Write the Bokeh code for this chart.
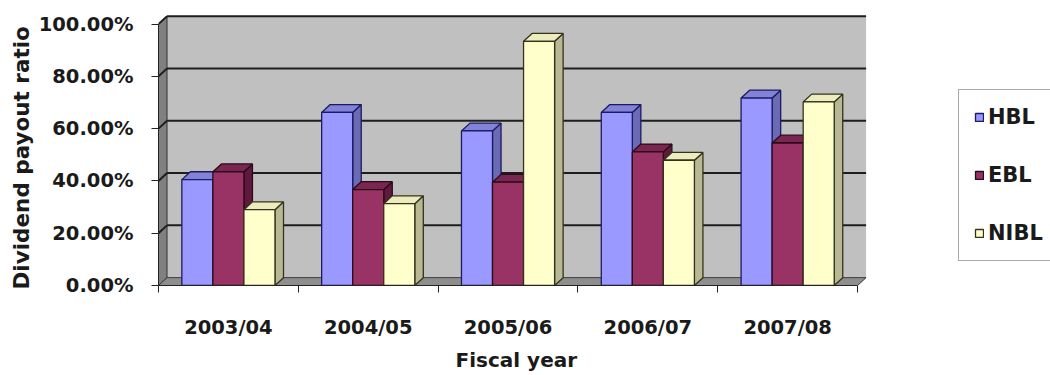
from bokeh.plotting import figure
from bokeh.models import (Range1d, FixedTicker, PrintfTickFormatter, Legend,
                          LegendItem, ColumnDataSource, Title)
from bokeh.embed import file_html
from bokeh.resources import INLINE

# Dividend payout ratio (%) by fiscal year
years = ["2003/04", "2004/05", "2005/06", "2006/07", "2007/08"]
hbl = [40.5, 66.2, 59.1, 66.2, 71.7]
ebl = [43.5, 36.7, 39.5, 51.1, 54.5]
nibl = [29.0, 31.3, 93.4, 47.9, 70.2]
y_ticks = [0, 20, 40, 60, 80, 100]

# name, values, front, top, side, outline
series = [
    ("HBL", hbl, "#9999FF", "#8282D6", "#6B6BB5", "#1A1A66"),
    ("EBL", ebl, "#993366", "#7A2650", "#5E1A3C", "#2A0A18"),
    ("NIBL", nibl, "#FFFFCC", "#ECECBE", "#B8B894", "#33331A"),
]

N = len(years)
BAR_W = 0.222            # bar width in category units
DX, DY = 0.061, 3.0      # depth offset of the pseudo-3D look
FONT = "DejaVu Sans"
INK = "#1A1A1A"

p = figure(width=1050, height=375, output_backend="svg", toolbar_location=None,
           x_range=Range1d(0, 6.38), y_range=Range1d(0, 109),
           min_border_left=158, min_border_right=0, min_border_top=0,
           min_border_bottom=85)
p.outline_line_color = None
p.xgrid.visible = False
p.ygrid.visible = False

# walls and floor
p.patch(x=[DX, N + DX, N + DX, DX], y=[DY, DY, 100 + DY, 100 + DY],
        fill_color="#C0C0C0", line_color=None)
p.patch(x=[0, DX, DX, 0], y=[0, DY, 100 + DY, 100],
        fill_color="#808080", line_color="#333333", line_width=1)
p.patch(x=[0, N, N + DX, DX], y=[0, 0, DY, DY],
        fill_color="#8E8E8E", line_color="#3A3A3A", line_width=1)

# gridlines on the back wall and across the side wall
grid_vals = y_ticks[1:]
p.segment(x0=[DX] * len(grid_vals), x1=[N + DX] * len(grid_vals),
          y0=[v + DY for v in grid_vals], y1=[v + DY for v in grid_vals],
          line_color="#1E1E1E", line_width=2)
p.segment(x0=[0] * len(grid_vals), x1=[DX] * len(grid_vals),
          y0=grid_vals, y1=[v + DY for v in grid_vals],
          line_color="#1E1E1E", line_width=2)

# bars: side, top, then front face for each series, left to right
gap = (1 - 3 * BAR_W) / 2
legend_items = []
for k, (name, vals, front, top, side, edge) in enumerate(series):
    lefts = [i + gap + k * BAR_W for i in range(N)]
    rights = [l + BAR_W for l in lefts]
    side_xs = [[r, r + DX, r + DX, r] for r in rights]
    side_ys = [[0, DY, v + DY, v] for v in vals]
    top_xs = [[l, l + DX, r + DX, r] for l, r in zip(lefts, rights)]
    top_ys = [[v, v + DY, v + DY, v] for v in vals]
    p.patches(xs=side_xs, ys=side_ys, fill_color=side, line_color=edge,
              line_width=1.3)
    p.patches(xs=top_xs, ys=top_ys, fill_color=top, line_color=edge,
              line_width=1.3)
    src = ColumnDataSource(dict(left=lefts, right=rights, top=vals,
                                bottom=[0] * N))
    r = p.quad(left="left", right="right", top="top", bottom="bottom",
               source=src, fill_color=front, line_color=edge, line_width=1.3)
    legend_items.append(LegendItem(label=name, renderers=[r]))

# axes
xa = p.xaxis[0]
xa.ticker = FixedTicker(ticks=[i + 0.5 for i in range(N)],
                        minor_ticks=list(range(N + 1)))
xa.major_label_overrides = {i + 0.5: y for i, y in enumerate(years)}
xa.bounds = (0, N)
xa.major_tick_line_color = None
xa.minor_tick_in = 0
xa.minor_tick_out = 7
xa.minor_tick_line_color = "#222222"
xa.axis_line_color = "#222222"
xa.major_label_text_font = FONT
xa.major_label_text_font_style = "bold"
xa.major_label_text_font_size = "19.5px"
xa.major_label_text_color = INK
xa.major_label_standoff = 23

ya = p.yaxis[0]
ya.ticker = FixedTicker(ticks=y_ticks, minor_ticks=[])
ya.formatter = PrintfTickFormatter(format="%.2f%%")
ya.bounds = (0, 100)
ya.major_tick_in = 0
ya.major_tick_out = 7
ya.major_tick_line_color = "#222222"
ya.axis_line_color = "#222222"
ya.major_label_text_font = FONT
ya.major_label_text_font_style = "bold"
ya.major_label_text_font_size = "19.5px"
ya.major_label_text_color = INK
ya.major_label_standoff = 18

# axis titles, placed under the category span and beside the value span
p.add_layout(Title(text="Fiscal year", align="left", offset=297,
                   text_font=FONT, text_font_style="bold",
                   text_font_size="20px", text_color=INK, standoff=8),
             "below")
p.add_layout(Title(text="Dividend payout ratio", align="left", offset=-4,
                   text_font=FONT, text_font_style="bold",
                   text_font_size="21.5px", text_color=INK, standoff=3),
             "left")

legend = Legend(items=legend_items, location=(800, 24), orientation="vertical",
                glyph_width=10, glyph_height=10, label_height=24, label_width=80,
                label_standoff=4, spacing=34, padding=15,
                label_text_font=FONT, label_text_font_style="bold",
                label_text_font_size="21px", label_text_color=INK,
                border_line_color="#555555", border_line_width=1,
                background_fill_color="white", background_fill_alpha=1)
p.add_layout(legend)

open("out.html", "w").write(file_html(p, INLINE))
